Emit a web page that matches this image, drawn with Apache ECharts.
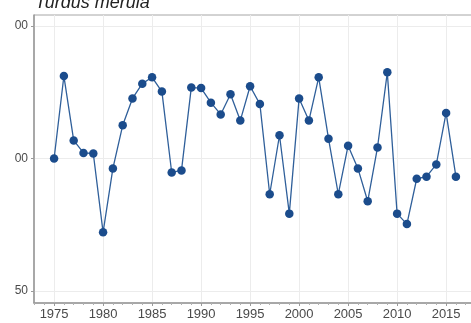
<!DOCTYPE html>
<html>
<head>
<meta charset="utf-8">
<script src="https://cdn.jsdelivr.net/npm/echarts@6/dist/echarts.min.js"></script>
<style>
html,body{margin:0;padding:0;overflow:hidden;background:#fff;width:471px;height:323px;}
#chart{position:absolute;left:0;top:0;width:480px;height:323px;}
</style>
</head>
<body>
<div id="chart"></div>
<script>
const years = [1975,1976,1977,1978,1979,1980,1981,1982,1983,1984,1985,1986,1987,1988,1989,1990,1991,1992,1993,1994,1995,1996,1997,1998,1999,2000,2001,2002,2003,2004,2005,2006,2007,2008,2009,2010,2011,2012,2013,2014,2015,2016];
const populationIndex = [100,154,110,103,102.7,68,95,119,137,148,153,142,93,94,145,144.6,134,126,140,122,146,133,83,113,75,137,122,153,111,83,107,95,80,106,157,75,71,90,91,97,127,91];
const yTicks = [50,100,200];
const xTicks = [1975,1980,1985,1990,1995,2000,2005,2010,2015];
const xMinorTicks = [1973,1974,1976,1977,1978,1979,1981,1982,1983,1984,1986,1987,1988,1989,1991,1992,1993,1994,1996,1997,1998,1999,2001,2002,2003,2004,2006,2007,2008,2009,2011,2012,2013,2014,2016,2017,2018];
const titleText = 'Turdus merula';

const chart = echarts.init(document.getElementById('chart'), null, {renderer:'canvas'});
const fam = 'Liberation Sans, Arial, sans-serif';
chart.setOption({
  animation:false,
  title:{
    text:titleText, left:35, top:-6, padding:0,
    textStyle:{fontSize:18, fontStyle:'italic', fontWeight:'normal', color:'#222', fontFamily:fam}
  },
  grid:{left:34, top:15, right:4, bottom:20, show:true, borderColor:'#a6a6a6', borderWidth:1},
  xAxis:[{
    type:'value', min:1972.95, max:2018.05,
    axisLine:{show:true, lineStyle:{color:'#9a9a9a', width:1.5}},
    axisTick:{show:true, customValues:xTicks, length:3, lineStyle:{color:'#9a9a9a'}},
    axisLabel:{customValues:xTicks, margin:5, formatter:v=>String(v), fontSize:13, color:'#4a4a4a', fontFamily:fam},
    splitLine:{show:true, lineStyle:{color:'#ececec', width:1}}
  },{
    type:'value', min:1972.95, max:2018.05, position:'bottom',
    axisLine:{show:false},
    axisTick:{show:true, customValues:xMinorTicks, length:2, lineStyle:{color:'#b0b0b0'}},
    axisLabel:{show:false},
    splitLine:{show:false}
  }],
  yAxis:{
    type:'log', logBase:10, min:47, max:211.9,
    axisLine:{show:true, lineStyle:{color:'#9a9a9a', width:1.5}},
    axisTick:{show:true, customValues:yTicks, length:3, lineStyle:{color:'#9a9a9a'}},
    axisLabel:{customValues:yTicks, margin:6, formatter:v=>String(v), fontSize:12, color:'#4a4a4a', fontFamily:fam},
    splitLine:{show:true, lineStyle:{color:'#ececec', width:1}}
  },
  graphic:[{type:'rect', left:0, top:0, shape:{width:15, height:323}, style:{fill:'#fff'}, z:100}],
  series:[{
    type:'line', xAxisIndex:0,
    data:years.map((y,i)=>[y, populationIndex[i]]),
    symbol:'circle', symbolSize:8.5,
    lineStyle:{color:'#2f5f9a', width:1.3},
    itemStyle:{color:'#1b4c8c'}
  }]
});
</script>
</body>
</html>
